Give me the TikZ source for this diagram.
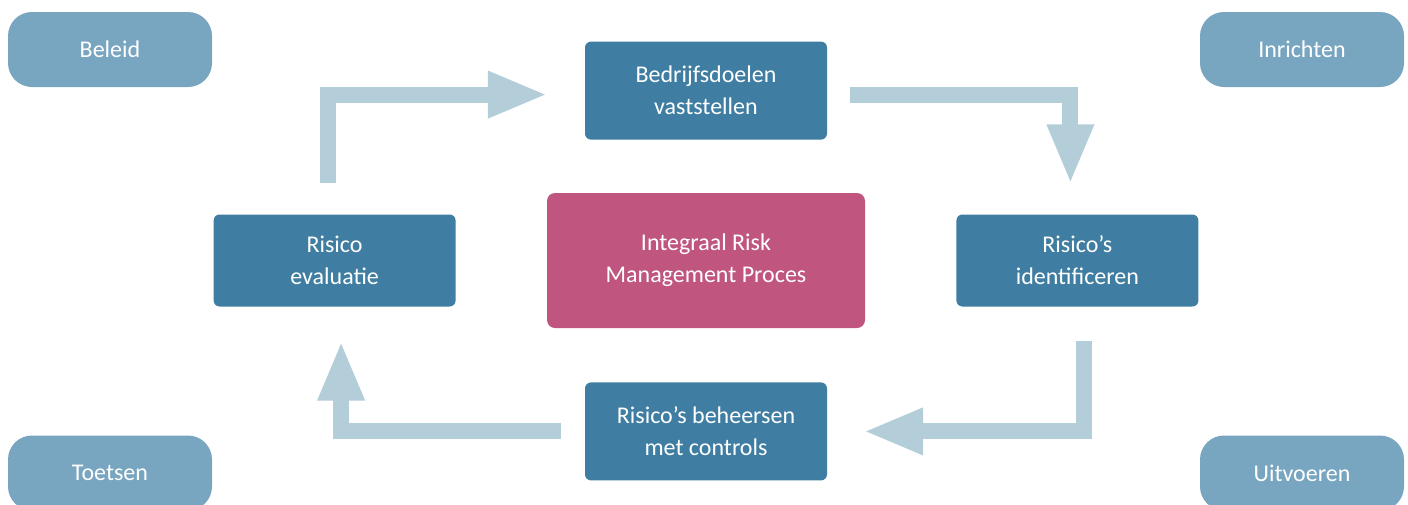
\documentclass[tikz,border=0pt]{standalone}
\usepackage{fontspec}
\setmainfont{Carlito}
\usetikzlibrary{arrows.meta, positioning}

\definecolor{stepblue}{HTML}{3F7EA2}
\definecolor{cornerblue}{HTML}{78A5BF}
\definecolor{corepink}{HTML}{C05680}
\definecolor{arrowblue}{HTML}{B3CDD9}

\begin{document}
\begin{tikzpicture}[
  x=1pt, y=-1pt,
  node distance=53pt,
  stepnode/.style={rectangle, rounded corners=6pt, fill=stepblue, text=white, minimum width=242pt, minimum height=92pt, align=center, font=\fontsize{24}{32}\selectfont},
  cornernode/.style={rectangle, rounded corners=24pt, fill=cornerblue, text=white, minimum width=204pt, minimum height=75pt, align=center, font=\fontsize{24}{32}\selectfont},
  corenode/.style={rectangle, rounded corners=8pt, fill=corepink, text=white, minimum width=318pt, minimum height=135pt, align=center, font=\fontsize{24}{32}\selectfont},
  flowarrow/.style={draw=arrowblue, line width=16pt, line join=miter, -{Triangle[length=60pt, width=43pt]}}
]
\useasboundingbox (0,0) rectangle (1408,504);
\clip (0,0) rectangle (1408,504);

% Core process
\node[corenode] (core) at (706,260.5) {Integraal Risk\\Management Proces};

% Cycle steps
\node[stepnode, minimum height=98pt, above=53pt of core] (doel) {Bedrijfsdoelen\\vaststellen};
\node[stepnode, right=91pt of core] (ident) {Risico’s\\identificeren};
\node[stepnode, minimum height=98pt, below=54pt of core] (beheer) {Risico’s beheersen\\met controls};
\node[stepnode, left=91pt of core] (eval) {Risico\\evaluatie};

% Corner labels
\node[cornernode] (beleid) at (110,49.5) {Beleid};
\node[cornernode] (inricht) at (1302,49.5) {Inrichten};
\node[cornernode] (toets) at (110,473) {Toetsen};
\node[cornernode] (uitvoer) at (1302,473) {Uitvoeren};

% Cycle arrows
\draw[flowarrow, shorten <=31pt, shorten >=37pt] ([xshift=-7pt]eval.north) |- ([yshift=-4pt]doel.west);
\draw[flowarrow, shorten <=23pt, shorten >=30pt] ([yshift=-4pt]doel.east) -| ([xshift=-7pt]ident.north);
\draw[flowarrow, shorten <=34pt, shorten >=36pt] ([xshift=6.5pt]ident.south) |- (beheer.east);
\draw[flowarrow, shorten <=24pt, shorten >=34pt] (beheer.west) -| ([xshift=6.5pt]eval.south);

\end{tikzpicture}
\end{document}
